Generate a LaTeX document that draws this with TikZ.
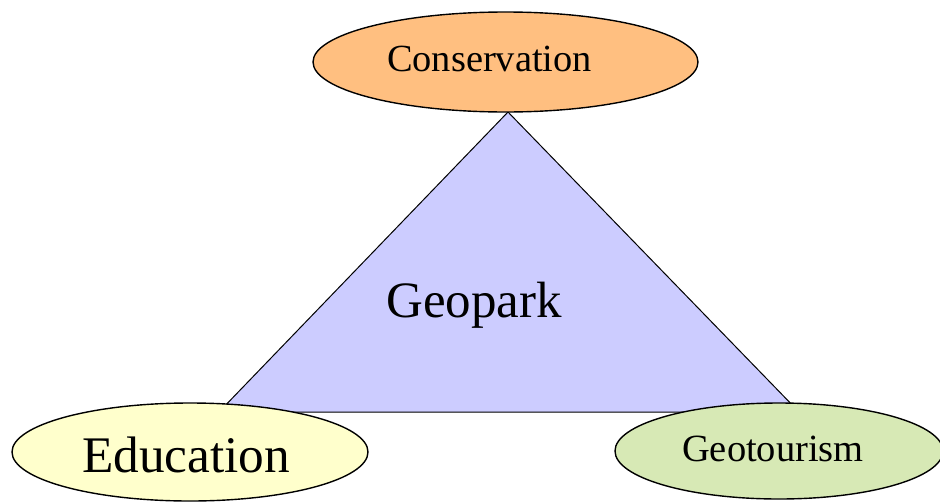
\documentclass[tikz,border=0pt]{standalone}
\usepackage{fontspec}
\setmainfont{Liberation Serif}
\usetikzlibrary{shapes.geometric}
\definecolor{consfill}{RGB}{255,191,128}
\definecolor{parkfill}{RGB}{204,204,255}
\definecolor{edufill}{RGB}{255,255,204}
\definecolor{tourfill}{RGB}{215,233,181}
\tikzset{
  pillar/.style={ellipse, draw=black, line width=1.4pt, inner sep=0pt},
  caption/.style={anchor=base, inner sep=0pt, text=black},
}
\begin{document}
\begin{tikzpicture}[x=1pt, y=-1pt]
  \useasboundingbox (0,0) rectangle (940,501);
  % central triangle
  \coordinate (apex) at (508,112);
  \coordinate (bl) at (219,412);
  \coordinate (br) at (799,412);
  \draw[fill=parkfill, line width=1pt, line join=miter] (apex) -- (br) -- (bl) -- cycle;
  \node[caption, font=\fontsize{51}{60}\selectfont] (geopark) at (474,317) {Geopark};
  % the three pillars
  \node[pillar, fill=consfill, minimum width=385pt, minimum height=100pt] (cons) at (505.5,62) {};
  \node[caption, font=\fontsize{38.4}{46}\selectfont] (conslabel) at (489.5,71) {Conservation};
  \node[pillar, fill=edufill, minimum width=356pt, minimum height=98pt] (edu) at (190,452) {};
  \node[caption, font=\fontsize{51.3}{60}\selectfont] (edulabel) at (186,472) {Education};
  \node[pillar, fill=tourfill, minimum width=328pt, minimum height=96pt] (tour) at (779,451) {};
  \node[caption, font=\fontsize{38.5}{46}\selectfont] (tourlabel) at (773,461) {Geotourism};
\end{tikzpicture}
\end{document}
